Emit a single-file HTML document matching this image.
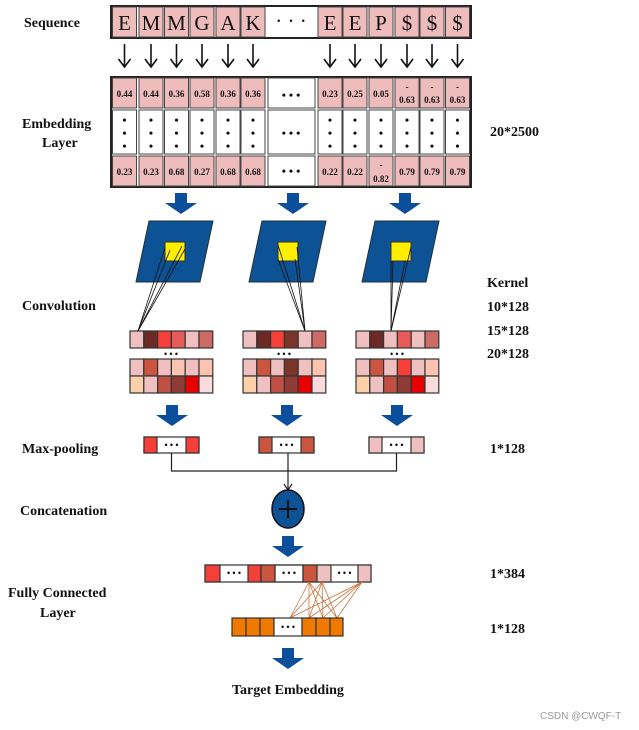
<!DOCTYPE html>
<html><head><meta charset="utf-8"><style>
html,body{margin:0;padding:0;background:#fff}
svg{display:block}
text{font-family:"Liberation Serif",serif;font-weight:bold;fill:#111}
</style></head><body>
<svg width="639" height="730" viewBox="0 0 639 730" xmlns="http://www.w3.org/2000/svg">
<defs>
<path id="ba" d="M-6,0 H6 V10 H16 L0,21 L-16,10 H-6 Z" fill="#0b4f9c"/>
<g id="darrow"><line x1="0" y1="0" x2="0" y2="22" stroke="#111" stroke-width="1.6"/><path d="M-6,15 L0,23 L6,15" fill="none" stroke="#111" stroke-width="1.6"/></g>
</defs>

<!-- Left labels -->
<text x="24" y="27" font-size="14">Sequence</text>
<text x="22" y="128" font-size="14">Embedding</text>
<text x="42" y="147" font-size="14">Layer</text>
<text x="22" y="310" font-size="14">Convolution</text>
<text x="22" y="453" font-size="14">Max-pooling</text>
<text x="20" y="515" font-size="14">Concatenation</text>
<text x="8" y="597" font-size="14">Fully Connected</text>
<text x="40" y="617" font-size="14">Layer</text>
<text x="232" y="694" font-size="14">Target Embedding</text>
<!-- Right labels -->
<text x="490" y="136" font-size="14">20*2500</text>
<text x="487" y="287" font-size="14">Kernel</text>
<text x="487" y="311" font-size="14">10*128</text>
<text x="487" y="335" font-size="14">15*128</text>
<text x="487" y="358" font-size="14">20*128</text>
<text x="490" y="453" font-size="14">1*128</text>
<text x="490" y="578" font-size="14">1*384</text>
<text x="490" y="633" font-size="14">1*128</text>
<text x="540" y="719" font-size="10" style="font-family:'Liberation Sans',sans-serif;font-weight:normal;fill:#999">CSDN @CWQF-T</text>

<!-- Sequence row -->
<rect x="111" y="6" width="360" height="32" fill="#fff" stroke="#222" stroke-width="2"/>
<g fill="#efbcbc" stroke="#444" stroke-width="1">
<rect x="112.5" y="7" width="24" height="30"/><rect x="139" y="7" width="24" height="30"/><rect x="164.5" y="7" width="24" height="30"/><rect x="190" y="7" width="24" height="30"/><rect x="216" y="7" width="24" height="30"/><rect x="241" y="7" width="24" height="30"/>
<rect x="318" y="7" width="24" height="30"/><rect x="343" y="7" width="24" height="30"/><rect x="369" y="7" width="24" height="30"/><rect x="395" y="7" width="24" height="30"/><rect x="420" y="7" width="24" height="30"/><rect x="445.5" y="7" width="24" height="30"/>
</g>
<g font-size="21" text-anchor="middle" style="font-weight:normal">
<text x="124.5" y="30" style="font-weight:normal">E</text><text x="151" y="30" style="font-weight:normal">M</text><text x="176.5" y="30" style="font-weight:normal">M</text><text x="202" y="30" style="font-weight:normal">G</text><text x="228" y="30" style="font-weight:normal">A</text><text x="253" y="30" style="font-weight:normal">K</text>
<text x="291" y="28" style="font-weight:normal">· · ·</text>
<text x="330" y="30" style="font-weight:normal">E</text><text x="355" y="30" style="font-weight:normal">E</text><text x="381" y="30" style="font-weight:normal">P</text><text x="407" y="30" style="font-weight:normal">$</text><text x="432" y="30" style="font-weight:normal">$</text><text x="457.5" y="30" style="font-weight:normal">$</text>
</g>
<!-- small arrows -->
<use href="#darrow" x="124.5" y="44"/><use href="#darrow" x="151" y="44"/><use href="#darrow" x="176.5" y="44"/><use href="#darrow" x="202" y="44"/><use href="#darrow" x="228" y="44"/><use href="#darrow" x="253" y="44"/>
<use href="#darrow" x="330" y="44"/><use href="#darrow" x="355" y="44"/><use href="#darrow" x="381" y="44"/><use href="#darrow" x="407" y="44"/><use href="#darrow" x="432" y="44"/><use href="#darrow" x="457.5" y="44"/>

<!-- Embedding table -->
<rect x="111" y="77" width="360" height="110" fill="#fff" stroke="#222" stroke-width="2"/>
<g fill="#efbcbc" stroke="#444" stroke-width="1">
<rect x="112.5" y="78" width="24" height="30"/><rect x="139" y="78" width="24" height="30"/><rect x="164.5" y="78" width="24" height="30"/><rect x="190" y="78" width="24" height="30"/><rect x="216" y="78" width="24" height="30"/><rect x="241" y="78" width="24" height="30"/>
<rect x="318" y="78" width="24" height="30"/><rect x="343" y="78" width="24" height="30"/><rect x="369" y="78" width="24" height="30"/><rect x="395" y="78" width="24" height="30"/><rect x="420" y="78" width="24" height="30"/><rect x="445.5" y="78" width="24" height="30"/>
<rect x="112.5" y="156" width="24" height="30"/><rect x="139" y="156" width="24" height="30"/><rect x="164.5" y="156" width="24" height="30"/><rect x="190" y="156" width="24" height="30"/><rect x="216" y="156" width="24" height="30"/><rect x="241" y="156" width="24" height="30"/>
<rect x="318" y="156" width="24" height="30"/><rect x="343" y="156" width="24" height="30"/><rect x="369" y="156" width="24" height="30"/><rect x="395" y="156" width="24" height="30"/><rect x="420" y="156" width="24" height="30"/><rect x="445.5" y="156" width="24" height="30"/>
</g>
<g fill="none" stroke="#444" stroke-width="1">
<rect x="112.5" y="110" width="24" height="44"/><rect x="139" y="110" width="24" height="44"/><rect x="164.5" y="110" width="24" height="44"/><rect x="190" y="110" width="24" height="44"/><rect x="216" y="110" width="24" height="44"/><rect x="241" y="110" width="24" height="44"/>
<rect x="268" y="78" width="47" height="30"/><rect x="268" y="110" width="47" height="44"/><rect x="268" y="156" width="47" height="30"/>
<rect x="318" y="110" width="24" height="44"/><rect x="343" y="110" width="24" height="44"/><rect x="369" y="110" width="24" height="44"/><rect x="395" y="110" width="24" height="44"/><rect x="420" y="110" width="24" height="44"/><rect x="445.5" y="110" width="24" height="44"/>
</g>
<g font-size="9" text-anchor="middle">
<text x="124.5" y="97">0.44</text><text x="151" y="97">0.44</text><text x="176.5" y="97">0.36</text><text x="202" y="97">0.58</text><text x="228" y="97">0.36</text><text x="253" y="97">0.36</text>
<text x="330" y="97">0.23</text><text x="355" y="97">0.25</text><text x="381" y="97">0.05</text>
<text x="407" y="90">-</text><text x="407" y="103">0.63</text><text x="432" y="90">-</text><text x="432" y="103">0.63</text><text x="457.5" y="90">-</text><text x="457.5" y="103">0.63</text>
<text x="124.5" y="175">0.23</text><text x="151" y="175">0.23</text><text x="176.5" y="175">0.68</text><text x="202" y="175">0.27</text><text x="228" y="175">0.68</text><text x="253" y="175">0.68</text>
<text x="330" y="175">0.22</text><text x="355" y="175">0.22</text><text x="381" y="168">-</text><text x="381" y="182">0.82</text>
<text x="407" y="175">0.79</text><text x="432" y="175">0.79</text><text x="457.5" y="175">0.79</text>
</g>
<g font-size="12" text-anchor="middle">
<text x="124.5" y="124">•</text><text x="124.5" y="137">•</text><text x="124.5" y="150">•</text>
<text x="151" y="124">•</text><text x="151" y="137">•</text><text x="151" y="150">•</text>
<text x="176.5" y="124">•</text><text x="176.5" y="137">•</text><text x="176.5" y="150">•</text>
<text x="202" y="124">•</text><text x="202" y="137">•</text><text x="202" y="150">•</text>
<text x="228" y="124">•</text><text x="228" y="137">•</text><text x="228" y="150">•</text>
<text x="253" y="124">•</text><text x="253" y="137">•</text><text x="253" y="150">•</text>
<text x="330" y="124">•</text><text x="330" y="137">•</text><text x="330" y="150">•</text>
<text x="355" y="124">•</text><text x="355" y="137">•</text><text x="355" y="150">•</text>
<text x="381" y="124">•</text><text x="381" y="137">•</text><text x="381" y="150">•</text>
<text x="407" y="124">•</text><text x="407" y="137">•</text><text x="407" y="150">•</text>
<text x="432" y="124">•</text><text x="432" y="137">•</text><text x="432" y="150">•</text>
<text x="457.5" y="124">•</text><text x="457.5" y="137">•</text><text x="457.5" y="150">•</text>
<text x="291" y="99">• • •</text><text x="291" y="137">• • •</text><text x="291" y="175">• • •</text>
</g>

<!-- Block arrows to conv -->
<use href="#ba" x="181" y="193"/><use href="#ba" x="293" y="193"/><use href="#ba" x="405" y="193"/>

<!-- Conv groups -->
<g id="c1">
<polygon points="149,221 213,221 200,282 136,282" fill="#0d5295" stroke="#233" stroke-width="1"/>
<rect x="165" y="242" width="20" height="19" fill="#ffee00" stroke="#333" stroke-width="1"/>
<g stroke="#111" stroke-width="0.8"><line x1="165" y1="248" x2="138" y2="331"/><line x1="170" y1="250" x2="138" y2="331"/><line x1="182" y1="246" x2="138" y2="331"/><line x1="185" y1="249" x2="138" y2="331"/></g>
</g>
<g>
<polygon points="262,221 326,221 313,282 249,282" fill="#0d5295" stroke="#233" stroke-width="1"/>
<rect x="278" y="242" width="20" height="19" fill="#ffee00" stroke="#333" stroke-width="1"/>
<g stroke="#111" stroke-width="0.8"><line x1="278" y1="245" x2="305" y2="331"/><line x1="278" y1="259" x2="305" y2="331"/><line x1="295" y1="259" x2="305" y2="331"/><line x1="297" y1="247" x2="305" y2="331"/></g>
</g>
<g>
<polygon points="375,221 439,221 426,282 362,282" fill="#0d5295" stroke="#233" stroke-width="1"/>
<rect x="391" y="242" width="20" height="19" fill="#ffee00" stroke="#333" stroke-width="1"/>
<g stroke="#111" stroke-width="0.8"><line x1="391" y1="261" x2="391" y2="331"/><line x1="393" y1="261" x2="391" y2="331"/><line x1="405" y1="261" x2="391" y2="331"/><line x1="411" y1="247" x2="391" y2="331"/></g>
</g>

<!-- feature maps group 1 -->
<g stroke="#333" stroke-width="1.2">
<rect x="130" y="331" width="13.8" height="17" fill="#f0c0c0"/><rect x="143.8" y="331" width="13.8" height="17" fill="#6b2a24"/><rect x="157.6" y="331" width="13.8" height="17" fill="#f5403a"/><rect x="171.4" y="331" width="13.8" height="17" fill="#e85a5a"/><rect x="185.2" y="331" width="13.8" height="17" fill="#f0c0c0"/><rect x="199" y="331" width="13.8" height="17" fill="#cc6b65"/>
<rect x="130" y="359" width="13.8" height="17" fill="#eec0c0"/><rect x="143.8" y="359" width="13.8" height="17" fill="#cc5540"/><rect x="157.6" y="359" width="13.8" height="17" fill="#eec0c0"/><rect x="171.4" y="359" width="13.8" height="17" fill="#fcc4b0"/><rect x="185.2" y="359" width="13.8" height="17" fill="#eec0c0"/><rect x="199" y="359" width="13.8" height="17" fill="#fcc4b0"/>
<rect x="130" y="376" width="13.8" height="17" fill="#fcd0a8"/><rect x="143.8" y="376" width="13.8" height="17" fill="#eec0c0"/><rect x="157.6" y="376" width="13.8" height="17" fill="#c05045"/><rect x="171.4" y="376" width="13.8" height="17" fill="#8e3a35"/><rect x="185.2" y="376" width="13.8" height="17" fill="#e80000"/><rect x="199" y="376" width="13.8" height="17" fill="#f8dcdc"/>
</g>
<g stroke="#333" stroke-width="1.2">
<rect x="243" y="331" width="13.8" height="17" fill="#f0c0c0"/><rect x="256.8" y="331" width="13.8" height="17" fill="#6b2a24"/><rect x="270.6" y="331" width="13.8" height="17" fill="#f5403a"/><rect x="284.4" y="331" width="13.8" height="17" fill="#7a3428"/><rect x="298.2" y="331" width="13.8" height="17" fill="#f0c0c0"/><rect x="312" y="331" width="13.8" height="17" fill="#cc6b65"/>
<rect x="243" y="359" width="13.8" height="17" fill="#eec0c0"/><rect x="256.8" y="359" width="13.8" height="17" fill="#cc5540"/><rect x="270.6" y="359" width="13.8" height="17" fill="#eec0c0"/><rect x="284.4" y="359" width="13.8" height="17" fill="#7a3428"/><rect x="298.2" y="359" width="13.8" height="17" fill="#eec0c0"/><rect x="312" y="359" width="13.8" height="17" fill="#fcc4b0"/>
<rect x="243" y="376" width="13.8" height="17" fill="#fcd0a8"/><rect x="256.8" y="376" width="13.8" height="17" fill="#eec0c0"/><rect x="270.6" y="376" width="13.8" height="17" fill="#c05045"/><rect x="284.4" y="376" width="13.8" height="17" fill="#8e3a35"/><rect x="298.2" y="376" width="13.8" height="17" fill="#e80000"/><rect x="312" y="376" width="13.8" height="17" fill="#f8dcdc"/>
</g>
<g stroke="#333" stroke-width="1.2">
<rect x="356" y="331" width="13.8" height="17" fill="#f0c0c0"/><rect x="369.8" y="331" width="13.8" height="17" fill="#6b2a24"/><rect x="383.6" y="331" width="13.8" height="17" fill="#f0c0c0"/><rect x="397.4" y="331" width="13.8" height="17" fill="#e85a5a"/><rect x="411.2" y="331" width="13.8" height="17" fill="#f0c0c0"/><rect x="425" y="331" width="13.8" height="17" fill="#cc6b65"/>
<rect x="356" y="359" width="13.8" height="17" fill="#eec0c0"/><rect x="369.8" y="359" width="13.8" height="17" fill="#cc5540"/><rect x="383.6" y="359" width="13.8" height="17" fill="#eec0c0"/><rect x="397.4" y="359" width="13.8" height="17" fill="#f5403a"/><rect x="411.2" y="359" width="13.8" height="17" fill="#eec0c0"/><rect x="425" y="359" width="13.8" height="17" fill="#fcc4b0"/>
<rect x="356" y="376" width="13.8" height="17" fill="#fcd0a8"/><rect x="369.8" y="376" width="13.8" height="17" fill="#eec0c0"/><rect x="383.6" y="376" width="13.8" height="17" fill="#c05045"/><rect x="397.4" y="376" width="13.8" height="17" fill="#8e3a35"/><rect x="411.2" y="376" width="13.8" height="17" fill="#e80000"/><rect x="425" y="376" width="13.8" height="17" fill="#f8dcdc"/>
</g>
<g font-size="9" text-anchor="middle"><text x="171" y="357">• • •</text><text x="284" y="357">• • •</text><text x="397" y="357">• • •</text></g>

<!-- arrows to pooling -->
<use href="#ba" x="172" y="405"/><use href="#ba" x="287" y="405"/><use href="#ba" x="397" y="405"/>

<!-- pooling boxes -->
<g stroke="#333" stroke-width="1.2">
<rect x="144" y="437" width="55" height="16" fill="#fff"/><rect x="144" y="437" width="13" height="16" fill="#f5403a"/><rect x="186" y="437" width="13" height="16" fill="#f5403a"/>
<rect x="259" y="437" width="55" height="16" fill="#fff"/><rect x="259" y="437" width="13" height="16" fill="#cc5540"/><rect x="301" y="437" width="13" height="16" fill="#cc5540"/>
<rect x="369" y="437" width="55" height="16" fill="#fff"/><rect x="369" y="437" width="13" height="16" fill="#efc0c0"/><rect x="411" y="437" width="13" height="16" fill="#efc0c0"/>
</g>
<g font-size="9" text-anchor="middle"><text x="171.5" y="448">• • •</text><text x="286.5" y="448">• • •</text><text x="396.5" y="448">• • •</text></g>
<!-- connectors -->
<g stroke="#222" stroke-width="1.2" fill="none">
<path d="M171.5,453 V471 H396.5 V453"/>
<path d="M288,453 V490"/>
<path d="M284,484 L288,490 L292,484"/>
</g>
<ellipse cx="288" cy="509" rx="16" ry="19" fill="#0d5295" stroke="#111" stroke-width="1.5"/>
<path d="M279,509 H297 M288,500 V518" stroke="#111" stroke-width="2"/>
<use href="#ba" x="288" y="536"/>

<!-- FC1 -->
<g stroke="#333" stroke-width="1.2">
<rect x="205" y="565" width="166" height="17" fill="#fff"/>
<rect x="205" y="565" width="15" height="17" fill="#f5403a"/>
<rect x="248" y="565" width="13" height="17" fill="#f5403a"/>
<rect x="261" y="565" width="14" height="17" fill="#cc5540"/>
<rect x="303" y="565" width="14" height="17" fill="#cc5540"/>
<rect x="317" y="565" width="14" height="17" fill="#efc0c0"/>
<rect x="358" y="565" width="13" height="17" fill="#efc0c0"/>
<rect x="275" y="565" width="28" height="17" fill="none"/>
</g>
<g font-size="9" text-anchor="middle"><text x="234" y="576">• • •</text><text x="289" y="576">• • •</text><text x="344.5" y="576">• • •</text></g>
<!-- FC lines -->
<g stroke="#c8743a" stroke-width="0.8">
<line x1="309" y1="582" x2="290" y2="618"/><line x1="309" y1="582" x2="309" y2="618"/><line x1="309" y1="582" x2="323" y2="618"/><line x1="309" y1="582" x2="337" y2="618"/>
<line x1="322" y1="582" x2="290" y2="618"/><line x1="322" y1="582" x2="309" y2="618"/><line x1="322" y1="582" x2="323" y2="618"/><line x1="322" y1="582" x2="337" y2="618"/>
<line x1="362" y1="582" x2="290" y2="618"/><line x1="362" y1="582" x2="309" y2="618"/><line x1="362" y1="582" x2="323" y2="618"/><line x1="362" y1="582" x2="337" y2="618"/>
</g>
<!-- FC2 -->
<g stroke="#333" stroke-width="1.2" fill="#f07a00">
<rect x="232" y="618" width="14" height="18"/><rect x="246" y="618" width="14" height="18"/><rect x="260" y="618" width="14" height="18"/>
<rect x="274" y="618" width="28" height="18" fill="#fff"/>
<rect x="302" y="618" width="14" height="18"/><rect x="316" y="618" width="14" height="18"/><rect x="330" y="618" width="13" height="18"/>
</g>
<g font-size="9" text-anchor="middle"><text x="288" y="630">• • •</text></g>
<use href="#ba" x="288" y="648"/>
</svg>
</body></html>
